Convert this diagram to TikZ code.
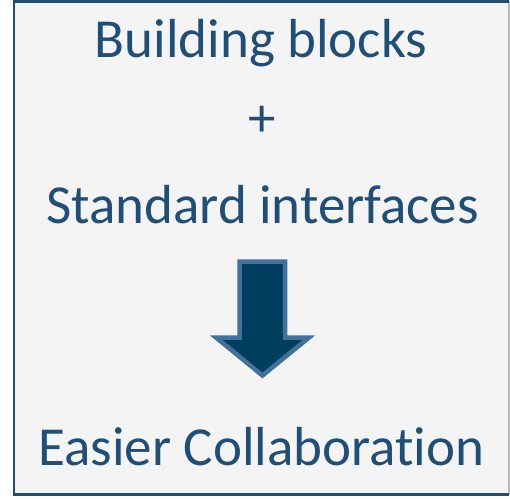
\documentclass[tikz,border=0pt]{standalone}
\usepackage{fontspec}
\setmainfont[Ligatures={NoCommon,NoRare,NoDiscretionary},RawFeature={-liga;-dlig}]{Carlito}
\definecolor{txtblue}{RGB}{31,78,121}
\definecolor{boxfill}{RGB}{244,244,244}
\definecolor{arrfill}{RGB}{0,62,96}
\definecolor{arrline}{RGB}{65,113,156}
\tikzset{
  label text/.style={font=\fontsize{55}{60}\selectfont, text=txtblue, anchor=base, inner sep=0pt},
}
\begin{document}
\begin{tikzpicture}[x=1pt,y=-1pt]
\useasboundingbox (0,0) rectangle (510,498);
\fill[boxfill] (13,1) rectangle (509,495);
\draw[gray!55, line width=1.2pt] (509,1) -- (509,495);
\draw[txtblue, line width=2.2pt] (509,1.5) -- (14,1.5) -- (14,494.5) -- (509,494.5);
\node[label text] (bb) at (261,57) {Building blocks};
\node[label text] (plus) at (262,136) {+};
\node[label text] (si) at (262.5,223) {Standard interfaces};
\node[label text] (ec) at (261.5,465) {Easier Collaboration};
\draw[fill=arrfill, draw=arrline, line width=4.5pt, line join=miter]
  (239.5,261.5) -- (285,261.5) -- (285,337.5) -- (309,337.5) -- (262.5,375.5)
  -- (216,337.5) -- (239.5,337.5) -- cycle;
\end{tikzpicture}
\end{document}
